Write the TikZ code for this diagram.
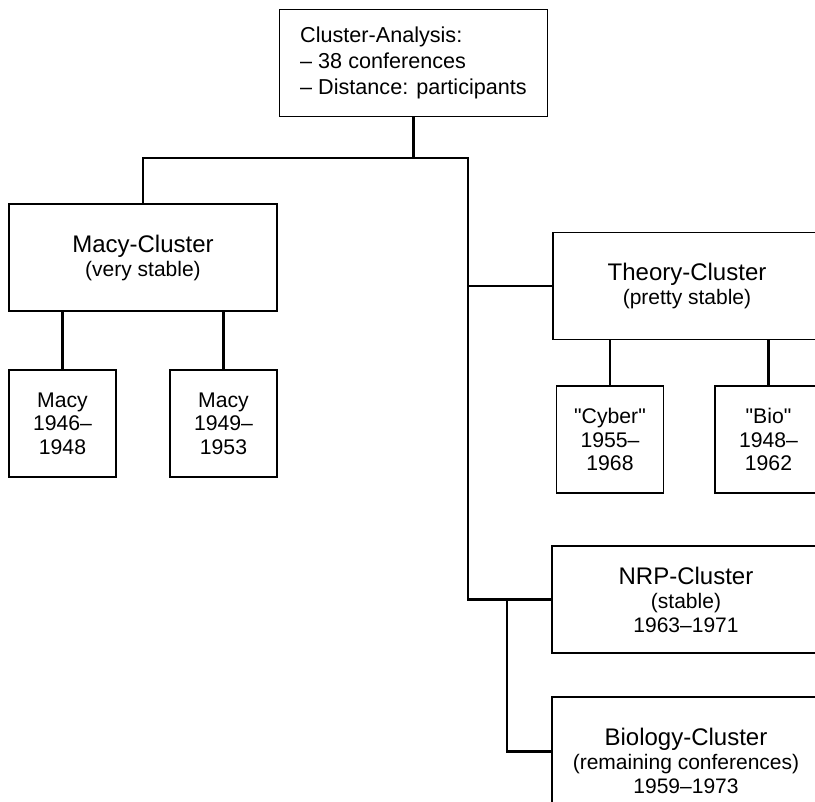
\documentclass[tikz,border=0pt]{standalone}
\usepackage{fontspec}
\setmainfont{Liberation Sans}
\usetikzlibrary{calc}
\tikzset{
  clbox/.style={draw, line width=0.75pt, inner sep=0pt, align=center,
    minimum width=134pt, minimum height=53.5pt,
    font=\fontsize{10.5}{12}\selectfont},
  confbox/.style={clbox, minimum width=53.5pt, font=\fontsize{10.6}{11.8}\selectfont},
  tree/.style={line width=1.3pt}
}
\newcommand{\clname}[1]{{\fontsize{12}{12}\selectfont #1}}
\newcommand{\qt}[1]{\textquotedbl#1\textquotedbl}
\begin{document}
\begin{tikzpicture}[x=0.5pt,y=-0.5pt]
\useasboundingbox (0,0) rectangle (815,802);
\clip (0,0) rectangle (815,802);
% root of the dendrogram
\node[clbox, align=left, font=\fontsize{10.8}{13}\selectfont] (top) at (413.5,63)
  {Cluster-Analysis:\\-- 38 conferences\\-- Distance: participants};
% left branch
\node[clbox] (macy) at (143,257.5) {\clname{Macy-Cluster}\\(very stable)};
\node[confbox] (macyA) at (62.5,423.5) {Macy\\1946--\\1948};
\node[confbox] (macyB) at (223.5,423.5) {Macy\\1949--\\1953};
% right branch
\node[clbox] (theory) at (687,286) {\clname{Theory-Cluster}\\(pretty stable)};
\node[confbox] (cyber) at (610,439.5) {\qt{Cyber}\\1955--\\1968};
\node[confbox] (bio) at (768.5,439.5) {\qt{Bio}\\1948--\\1962};
\node[clbox] (nrp) at (686,599.5) {\clname{NRP-Cluster}\\(stable)\\1963--1971};
\node[clbox, minimum height=64pt] (biol) at (686,761)
  {\clname{Biology-Cluster}\\(remaining conferences)\\1959--1973};
% junctions
\coordinate (split1) at (468,158);
\coordinate (split2) at (507,600);
\coordinate (biolin) at ($(biol.north west)+(0,55)$);
% tree lines
\draw[tree] (top.south) -- (top.south |- split1);
\draw[tree] (macy.north) |- (split1) -- (split1 |- nrp.west) -- (nrp.west);
\draw[tree] (split1 |- theory.west) -- (theory.west);
\draw[tree] (split2 |- nrp.west) |- (biolin);
\foreach \n in {macyA,macyB}
  \draw[tree] (\n.north) -- (\n.north |- macy.south);
\foreach \n in {cyber,bio}
  \draw[tree] (\n.north) -- (\n.north |- theory.south);
\end{tikzpicture}
\end{document}
